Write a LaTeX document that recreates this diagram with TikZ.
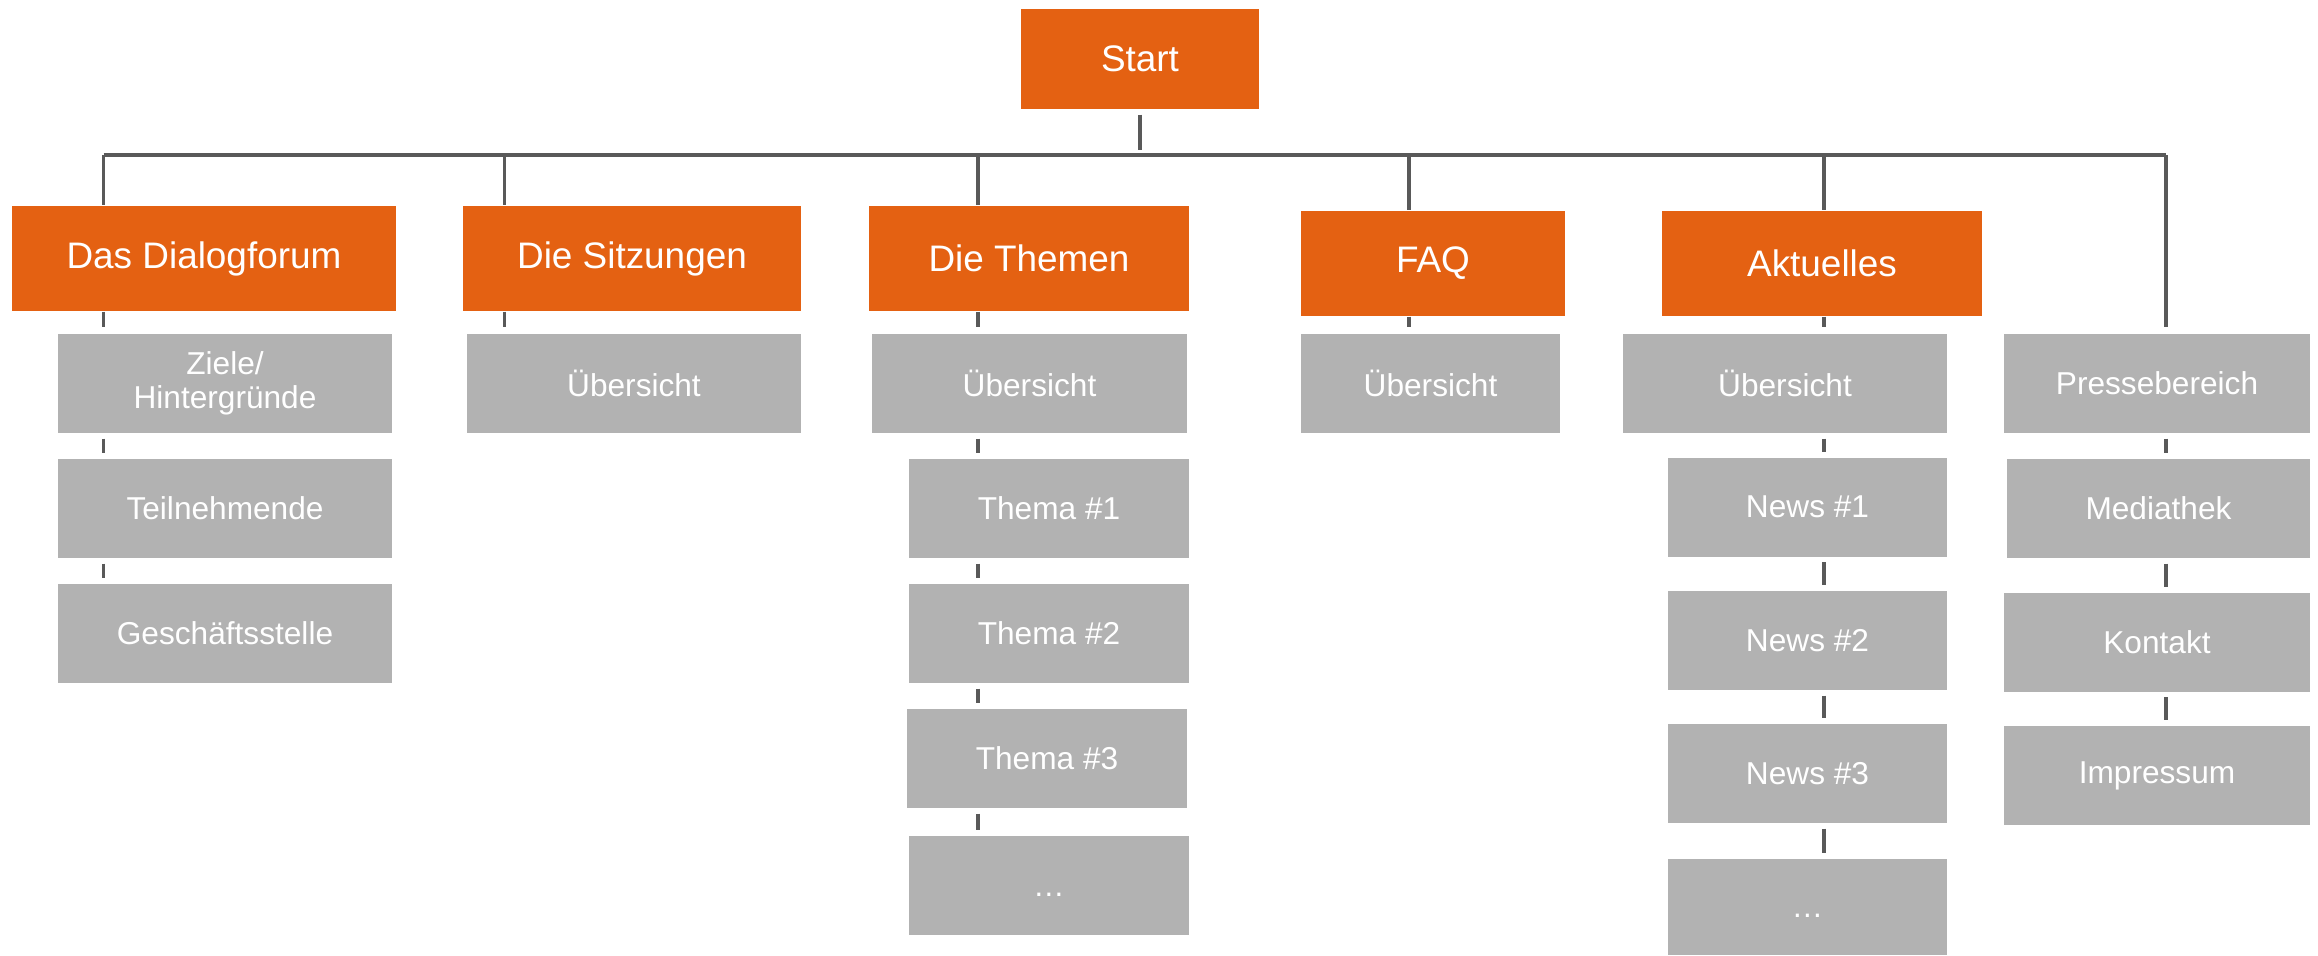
\documentclass[tikz,border=0pt]{standalone}
\usepackage{fontspec}
\setmainfont{Liberation Sans}
\begin{document}
\begin{tikzpicture}[
    page/.style={fill=pageorange, text=white, inner sep=0pt,
        minimum height=1.05cm, font=\fontsize{10.5}{12}\selectfont},
    sub/.style={fill=subgray, text=white, inner sep=0pt, align=center,
        minimum height=0.99cm, font=\fontsize{9}{9.8}\selectfont},
    link/.style={draw=linegray, line width=1pt},
    bar/.style={draw=linegray, line width=1.4pt},
]

% --- colors ---
\definecolor{pageorange}{RGB}{228,97,18}
\definecolor{subgray}{RGB}{178,178,178}
\definecolor{linegray}{RGB}{89,89,89}

\useasboundingbox (0,0) rectangle (23.18,-9.55);

% --- root ---
\node[page, minimum width=2.38cm, minimum height=1.00cm]
    (start) at (11.40,-0.59) {Start};

% --- junctions on the main bar ---
\coordinate (b1) at (1.036,-1.55);
\coordinate (b2) at (5.045,-1.55);
\coordinate (b3) at (9.78,-1.55);
\coordinate (b4) at (14.09,-1.55);
\coordinate (b5) at (18.24,-1.55);
\coordinate (b6) at (21.66,-1.55);

% --- main sections ---
\node[page, minimum width=3.84cm] (dialog)    at (2.04,-2.585)  {Das Dialogforum};
\node[page, minimum width=3.38cm] (sitzungen) at (6.32,-2.585)  {Die Sitzungen};
\node[page, minimum width=3.20cm] (themen)    at (10.29,-2.585) {Die Themen};
\node[page, minimum width=2.64cm] (faq)       at (14.33,-2.635) {FAQ};
\node[page, minimum width=3.20cm] (aktuelles) at (18.22,-2.635) {Aktuelles};

% --- Das Dialogforum ---
\node[sub, minimum width=3.34cm] (ziele)  at (2.25,-3.835) {Ziele/\\Hintergründe};
\node[sub, minimum width=3.34cm] (teiln)  at (2.25,-5.085) {Teilnehmende};
\node[sub, minimum width=3.34cm] (gesch)  at (2.25,-6.335) {Geschäftsstelle};

% --- Die Sitzungen ---
\node[sub, minimum width=3.34cm] (sitzueb) at (6.34,-3.835) {Übersicht};

% --- Die Themen ---
\node[sub, minimum width=3.15cm] (themueb)  at (10.295,-3.835) {Übersicht};
\node[sub, minimum width=2.80cm] (thema1)   at (10.49,-5.085)  {Thema \#1};
\node[sub, minimum width=2.80cm] (thema2)   at (10.49,-6.335)  {Thema \#2};
\node[sub, minimum width=2.80cm] (thema3)   at (10.47,-7.585)  {Thema \#3};
\node[sub, minimum width=2.80cm] (themadots) at (10.49,-8.855) {\vphantom{A}…};

% --- FAQ ---
\node[sub, minimum width=2.59cm] (faqueb) at (14.305,-3.835) {Übersicht};

% --- Aktuelles ---
\node[sub, minimum width=3.24cm] (aktueb)   at (17.85,-3.835)  {Übersicht};
\node[sub, minimum width=2.79cm] (news1)    at (18.075,-5.07)  {News \#1};
\node[sub, minimum width=2.79cm] (news2)    at (18.075,-6.405) {News \#2};
\node[sub, minimum width=2.79cm] (news3)    at (18.075,-7.735) {News \#3};
\node[sub, minimum width=2.79cm, minimum height=0.96cm]
    (newsdots) at (18.075,-9.07) {\vphantom{A}…};

% --- service pages ---
\node[sub, minimum width=3.06cm] (presse)    at (21.57,-3.835)  {Pressebereich};
\node[sub, minimum width=3.03cm] (media)     at (21.585,-5.085) {Mediathek};
\node[sub, minimum width=3.06cm] (kontakt)   at (21.57,-6.42)   {Kontakt};
\node[sub, minimum width=3.06cm] (impressum) at (21.57,-7.755)  {Impressum};

% --- root to bar ---
\draw[link, shorten <=0.05cm, shorten >=0.05cm] (start) -- (start |- b1);
\draw[bar] (b1) -- (b6);

% --- bar to sections ---
\foreach \b/\n in {b1/dialog, b2/sitzungen, b3/themen, b4/faq, b5/aktuelles} {
    \draw[link] (\b) -- (\b |- \n.north);
}
\draw[link, shorten >=0.06cm] (b6) -- (b6 |- presse.north);

% --- sections to first sub page ---
\foreach \b/\a/\n in {b1/dialog/ziele, b2/sitzungen/sitzueb, b3/themen/themueb,
                      b4/faq/faqueb, b5/aktuelles/aktueb} {
    \draw[link, shorten >=0.06cm] (\a.south -| \b) -- (\n.north -| \b);
}

% --- chains of sub pages ---
\foreach \b/\a/\n in {b1/ziele/teiln, b1/teiln/gesch,
                      b3/themueb/thema1, b3/thema1/thema2, b3/thema2/thema3,
                      b3/thema3/themadots,
                      b5/aktueb/news1, b5/news1/news2, b5/news2/news3,
                      b5/news3/newsdots,
                      b6/presse/media, b6/media/kontakt, b6/kontakt/impressum} {
    \draw[link, shorten <=0.05cm, shorten >=0.05cm] (\a.south -| \b) -- (\n.north -| \b);
}

\end{tikzpicture}
\end{document}
